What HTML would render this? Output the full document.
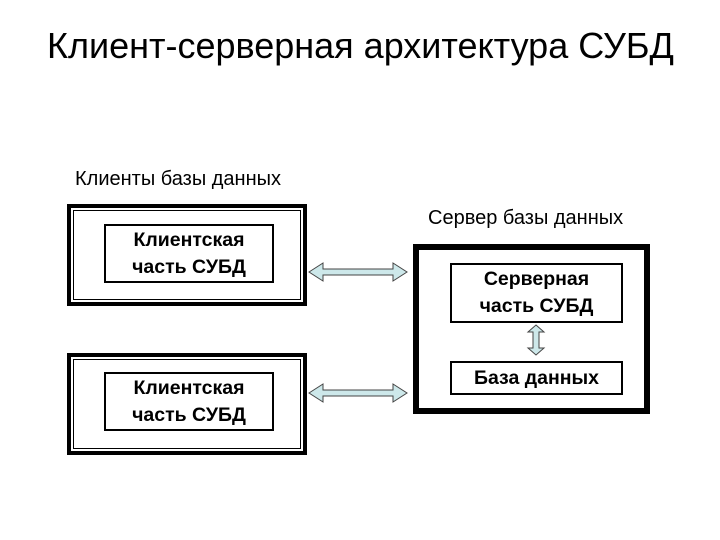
<!DOCTYPE html>
<html><head><meta charset="utf-8"><style>
body{margin:0;background:#fff;width:720px;height:540px;overflow:hidden;position:relative;font-family:"Liberation Sans",sans-serif}
.t{position:absolute;white-space:nowrap;color:#000}
.b{position:absolute;box-sizing:border-box;background:#fff}
.o{border:4px solid #000;box-shadow:inset 0 0 0 2px #fff,inset 0 0 0 3px #000}
.in{border:2px solid #000;display:flex;align-items:center;justify-content:center;text-align:center;font-weight:bold;font-size:19.5px;line-height:27px}
</style></head><body>
<div class="t" style="left:47px;top:25px;font-size:36px">Клиент-серверная архитектура СУБД</div>
<div class="t" style="left:75px;top:168px;font-size:20px">Клиенты базы данных</div>
<div class="t" style="left:428px;top:207px;font-size:20px">Сервер базы данных</div>

<div class="b o" style="left:67px;top:204px;width:240px;height:102px"></div>
<div class="b in" style="left:104px;top:224px;width:170px;height:59px">Клиентская<br>часть СУБД</div>

<div class="b o" style="left:67px;top:353px;width:240px;height:102px"></div>
<div class="b in" style="left:104px;top:372px;width:170px;height:59px">Клиентская<br>часть СУБД</div>

<div class="b" style="left:413px;top:244px;width:237px;height:170px;border:6px solid #000"></div>
<div class="b in" style="left:450px;top:263px;width:173px;height:60px">Серверная<br>часть СУБД</div>
<div class="b in" style="left:450px;top:361px;width:173px;height:34px">База данных</div>

<svg width="720" height="540" style="position:absolute;left:0;top:0">
<g fill="#cde8ea" stroke="#444" stroke-width="1">
<polygon points="309,272 323,263 323,269 393,269 393,263 407,272 393,281 393,275 323,275 323,281"/>
<polygon points="309,393 323,384 323,390 393,390 393,384 407,393 393,402 393,396 323,396 323,402"/>
<polygon points="536,325 544,332 539,332 539,348 544,348 536,355 528,348 533,348 533,332 528,332"/>
</g></svg>
</body></html>
